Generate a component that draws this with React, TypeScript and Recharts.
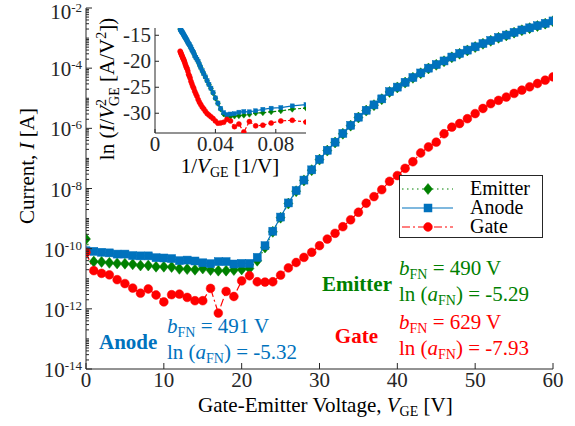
import { LineChart, Line, XAxis, YAxis, Legend } from "recharts";

// gate-emitter voltage sweep [V]
const voltage = [
  0, 1, 2, 3, 4, 5, 6, 7, 8, 9, 10, 11, 12, 13, 14, 15, 16, 17, 18, 19, 20,
  21, 22, 23, 24, 25, 26, 27, 28, 29, 30, 31, 32, 33, 34, 35, 36, 37, 38, 39, 40,
  41, 42, 43, 44, 45, 46, 47, 48, 49, 50, 51, 52, 53, 54, 55, 56, 57, 58, 59, 60,
];

// log10 of current [A]
const emitterLog = [
  -9.68, -10.43, -10.44, -10.47, -10.49, -10.5, -10.52, -10.56, -10.56, -10.6, -10.6,
  -10.61, -10.67, -10.68, -10.7, -10.66, -10.71, -10.73, -10.73, -10.71, -10.69,
  -10.66, -10.4, -9.96, -9.44, -8.97, -8.5, -8.09, -7.73, -7.39, -7.04,
  -6.74, -6.47, -6.18, -5.91, -5.64, -5.41, -5.23, -5.03, -4.79, -4.64,
  -4.48, -4.32, -4.17, -4.01, -3.89, -3.77, -3.64, -3.52, -3.41, -3.3,
  -3.19, -3.09, -2.99, -2.91, -2.82, -2.74, -2.67, -2.6, -2.52, -2.44,
];

const anodeLog = [
  -10.07, -10.09, -10.12, -10.14, -10.18, -10.18, -10.23, -10.24, -10.24, -10.3, -10.31,
  -10.33, -10.4, -10.38, -10.41, -10.47, -10.5, -10.43, -10.43, -10.51, -10.49,
  -10.49, -10.29, -9.9, -9.42, -8.95, -8.48, -8.07, -7.72, -7.38, -7.03,
  -6.73, -6.46, -6.17, -5.9, -5.63, -5.4, -5.22, -5.02, -4.78, -4.63,
  -4.47, -4.31, -4.16, -4.0, -3.88, -3.76, -3.63, -3.51, -3.4, -3.29,
  -3.18, -3.08, -2.98, -2.9, -2.81, -2.73, -2.66, -2.59, -2.51, -2.43,
];

const gateLog = [
  -10.12, -10.73, -10.82, -10.87, -11.03, -11.16, -11.31, -11.48, -11.34, -11.54, -11.77,
  -11.53, -11.51, -11.62, -11.73, -11.73, -11.32, -12.14, -11.42, -11.59, -11.07,
  -10.9, -11.1, -11.11, -11.1, -10.88, -10.64, -10.46, -10.29, -10.12, -9.9,
  -9.68, -9.49, -9.27, -9.04, -8.79, -8.49, -8.27, -8.04, -7.76, -7.57,
  -7.33, -7.11, -6.82, -6.62, -6.46, -6.18, -5.96, -5.84, -5.68, -5.51,
  -5.34, -5.18, -5.07, -4.96, -4.84, -4.73, -4.62, -4.51, -4.4, -4.29,
];

// Fowler-Nordheim fit results
const fitAnode = { b: 491, lna: "-5.32" };
const fitEmitter = { b: 490, lna: "-5.29" };
const fitGate = { b: 629, lna: "-7.93" };

const voltageTicks = [0, 10, 20, 30, 40, 50, 60];
const currentMajorTicks = [1e-14, 1e-12, 1e-10, 1e-8, 1e-6, 1e-4, 1e-2];
const insetXTicks = [0, 0.04, 0.08];
const insetYTicks = [-30, -25, -20, -15];

const FONT = '"Liberation Serif", "Times New Roman", serif';
const AXIS = "#262626";
const GREEN = "#008000";
const BLUE = "#0072BD";
const RED = "#FF0000";

const rows = voltage.map((v, i) => ({
  v,
  emitter: 10 ** emitterLog[i],
  anode: 10 ** anodeLog[i],
  gate: 10 ** gateLog[i],
}));

// FN plot: ln(I/V^2) against 1/V, for V >= 10
const insetRows = rows
  .filter((r) => r.v >= 10)
  .map((r) => ({
    inv: 1 / r.v,
    emitter: Math.log(r.emitter / (r.v * r.v)),
    anode: Math.log(r.anode / (r.v * r.v)),
    gate: Math.log(r.gate / (r.v * r.v)),
  }));

const currentTicks: number[] = [];
for (let e = -14; e <= -3; e++) {
  for (let m = 1; m <= 9; m++) currentTicks.push(m * 10 ** e);
}
currentTicks.push(1e-2);

const isMajor = (v: number) => currentMajorTicks.some((t) => Math.abs(v / t - 1) < 1e-6);

// ---- tick renderers (ticks point inward, MATLAB style) ----
const LeftLogTick = (p: any) => {
  const major = isMajor(p.payload.value);
  const exp = Math.round(Math.log10(p.payload.value));
  const base = Math.max(p.y + 8, 19);
  return (
    <g>
      <line x1={p.x} y1={p.y} x2={p.x + (major ? 6 : 3)} y2={p.y} stroke={AXIS} />
      {major && (
        <text x={p.x - 4} y={base} textAnchor="end" fontFamily={FONT} fontSize={21} fill={AXIS}>
          10<tspan dy={-7} fontSize={13}>{exp}</tspan>
        </text>
      )}
    </g>
  );
};

const RightLogTick = (p: any) => {
  const major = isMajor(p.payload.value);
  return <line x1={p.x} y1={p.y} x2={p.x - (major ? 6 : 3)} y2={p.y} stroke={AXIS} />;
};

const bottomTick = (len: number, fmt: (v: number) => string) => (p: any) => (
  <g>
    <line x1={p.x} y1={p.y} x2={p.x} y2={p.y - len} stroke={AXIS} />
    <text x={p.x} y={p.y + 18} textAnchor="middle" fontFamily={FONT} fontSize={21} fill={AXIS}>
      {fmt(p.payload.value)}
    </text>
  </g>
);

const topTick = (len: number) => (p: any) => (
  <line x1={p.x} y1={p.y} x2={p.x} y2={p.y + len} stroke={AXIS} />
);

const leftTick = (len: number) => (p: any) => (
  <g>
    <line x1={p.x} y1={p.y} x2={p.x + len} y2={p.y} stroke={AXIS} />
    <text x={p.x - 4} y={p.y + 7} textAnchor="end" fontFamily={FONT} fontSize={21} fill={AXIS}>
      {p.payload.value}
    </text>
  </g>
);

const rightTick = (len: number) => (p: any) => (
  <line x1={p.x} y1={p.y} x2={p.x - len} y2={p.y} stroke={AXIS} />
);

// ---- markers ----
const diamondDot = (hw: number, hh: number) => (p: any) => (
  <path
    key={`dm-${p.index}`}
    d={`M${p.cx},${p.cy - hh}L${p.cx + hw},${p.cy}L${p.cx},${p.cy + hh}L${p.cx - hw},${p.cy}Z`}
    fill={GREEN}
    stroke={GREEN}
    strokeWidth={0.5}
  />
);

const squareDot = (h: number) => (p: any) => (
  <rect key={`sq-${p.index}`} x={p.cx - h} y={p.cy - h} width={2 * h} height={2 * h} fill={BLUE} stroke={BLUE} strokeWidth={0.5} />
);

const circleDot = (r: number) => (p: any) => (
  <circle key={`ci-${p.index}`} cx={p.cx} cy={p.cy} r={r} fill={RED} stroke={RED} strokeWidth={0.5} />
);

const series = [
  { key: "emitter", name: "Emitter", color: GREEN, dash: "1.5 3.5", dot: diamondDot(4.5, 5.5), small: diamondDot(2.5, 3) },
  { key: "anode", name: "Anode", color: BLUE, dash: undefined, dot: squareDot(4), small: squareDot(2) },
  { key: "gate", name: "Gate", color: RED, dash: "8 3 2 3", dot: circleDot(4.4), small: circleDot(2.5) },
];

const LegendBox = () => (
  <svg width={144} height={63} style={{ display: "block" }}>
    <rect x={0.5} y={0.5} width={143} height={62} fill="#fff" stroke={AXIS} />
    {series.map((s, i) => {
      const cy = 14 + i * 19;
      return (
        <g key={s.key}>
          <line x1={3} y1={cy} x2={54} y2={cy} stroke={s.color} strokeWidth={1.2} strokeDasharray={s.dash} />
          {s.dot({ cx: 29, cy, index: i })}
          <text x={71} y={cy + 6} fontFamily={FONT} fontSize={20} fill="#000">
            {s.name}
          </text>
        </g>
      );
    })}
  </svg>
);

const FitText = ({ x, y, color, fit }: any) => (
  <g fill={color} fontFamily={FONT} fontSize={21}>
    <text x={x} y={y}>
      <tspan fontStyle="italic">b</tspan>
      <tspan fontSize={14} dy={4}>FN</tspan>
      <tspan dy={-4}>{` = ${fit.b} V`}</tspan>
    </text>
    <text x={x} y={y + 26}>
      {"ln ("}
      <tspan fontStyle="italic">a</tspan>
      <tspan fontSize={14} dy={4}>FN</tspan>
      <tspan dy={-4}>{`) = ${fit.lna}`}</tspan>
    </text>
  </g>
);

export default function App() {
  return (
    <div style={{ position: "relative", width: 575, height: 426, background: "#fff" }}>
      <style>{"body{margin:0}"}</style>
      <LineChart width={575} height={426} data={rows} margin={{ top: 8, right: 22, bottom: 0, left: 0 }}>
        <XAxis
          type="number"
          dataKey="v"
          domain={[0, 60]}
          ticks={voltageTicks}
          interval={0}
          height={57}
          tickSize={0}
          tickMargin={0}
          tickLine={false}
          stroke={AXIS}
          tick={bottomTick(6, (v) => String(v))}
          allowDataOverflow
        />
        <XAxis
          xAxisId="top"
          orientation="top"
          type="number"
          domain={[0, 60]}
          ticks={voltageTicks}
          interval={0}
          height={0}
          tickSize={0}
          tickMargin={0}
          tickLine={false}
          stroke={AXIS}
          tick={topTick(6)}
          allowDataOverflow
        />
        <YAxis
          type="number"
          scale="log"
          domain={[1e-14, 1e-2]}
          ticks={currentTicks}
          interval={0}
          width={86}
          tickSize={0}
          tickMargin={0}
          tickLine={false}
          stroke={AXIS}
          tick={<LeftLogTick />}
          allowDataOverflow
        />
        <YAxis
          yAxisId="right"
          orientation="right"
          type="number"
          scale="log"
          domain={[1e-14, 1e-2]}
          ticks={currentTicks}
          interval={0}
          width={0}
          tickSize={0}
          tickMargin={0}
          tickLine={false}
          stroke={AXIS}
          tick={<RightLogTick />}
          allowDataOverflow
        />
        {series.map((s) => (
          <Line
            key={s.key}
            type="linear"
            dataKey={s.key}
            name={s.name}
            stroke={s.color}
            strokeWidth={1.2}
            strokeDasharray={s.dash}
            dot={s.dot}
            activeDot={false}
            isAnimationActive={false}
          />
        ))}
        <Legend
          layout="vertical"
          align="center"
          verticalAlign="middle"
          content={<LegendBox />}
          wrapperStyle={{ left: 399, top: 175, width: 144, height: 63 }}
        />
      </LineChart>

      {/* inset: Fowler-Nordheim plot */}
      <div style={{ position: "absolute", left: 0, top: 0 }}>
        <LineChart width={320} height={190} data={insetRows} margin={{ top: 28, right: 14, bottom: 0, left: 0 }}>
          <XAxis
            type="number"
            dataKey="inv"
            domain={[0, 0.1]}
            ticks={insetXTicks}
            interval={0}
            height={57}
            tickSize={0}
            tickMargin={0}
            tickLine={false}
            stroke={AXIS}
            tick={bottomTick(4, (v) => (v === 0 ? "0" : v.toFixed(2)))}
            allowDataOverflow
          />
          <XAxis
            xAxisId="top"
            orientation="top"
            type="number"
            domain={[0, 0.1]}
            ticks={insetXTicks}
            interval={0}
            height={0}
            tickSize={0}
            tickMargin={0}
            tickLine={false}
            stroke={AXIS}
            tick={topTick(4)}
            allowDataOverflow
          />
          <YAxis
            type="number"
            domain={[-33.8, -13.6]}
            ticks={insetYTicks}
            interval={0}
            width={155}
            tickSize={0}
            tickMargin={0}
            tickLine={false}
            stroke={AXIS}
            tick={leftTick(4)}
            allowDataOverflow
          />
          <YAxis
            yAxisId="right"
            orientation="right"
            type="number"
            domain={[-33.8, -13.6]}
            ticks={insetYTicks}
            interval={0}
            width={0}
            tickSize={0}
            tickMargin={0}
            tickLine={false}
            stroke={AXIS}
            tick={rightTick(4)}
            allowDataOverflow
          />
          {series.map((s) => (
            <Line
              key={s.key}
              type="linear"
              dataKey={s.key}
              stroke={s.color}
              strokeWidth={1.2}
              strokeDasharray={s.dash ? "3 2" : undefined}
              dot={s.small}
              activeDot={false}
              isAnimationActive={false}
            />
          ))}
        </LineChart>
      </div>

      {/* axis titles and annotations */}
      <svg width={575} height={426} style={{ position: "absolute", left: 0, top: 0, pointerEvents: "none" }}>
        <g fontFamily={FONT} fontSize={21} fill="#000">
          <text x={198} y={412}>
            {"Gate-Emitter Voltage, "}
            <tspan fontStyle="italic">V</tspan>
            <tspan fontSize={14} dy={4}>GE</tspan>
            <tspan dy={-4}>{" [V]"}</tspan>
          </text>
          <text transform="translate(34,166) rotate(-90)" textAnchor="middle">
            {"Current, "}
            <tspan fontStyle="italic">I</tspan>
            {" [A]"}
          </text>
          <text x={230} y={173} textAnchor="middle">
            {"1/"}
            <tspan fontStyle="italic">V</tspan>
            <tspan fontSize={14} dy={4}>GE</tspan>
            <tspan dy={-4}>{" [1/V]"}</tspan>
          </text>
          <text transform="translate(114,89) rotate(-90)" textAnchor="middle">
            {"ln ("}
            <tspan fontStyle="italic">I</tspan>
            {"/"}
            <tspan fontStyle="italic">V</tspan>
            <tspan fontSize={14} dy={-8}>2</tspan>
            <tspan fontSize={14} dx={-7} dy={13}>GE</tspan>
            <tspan dy={-5}>{" [A/V"}</tspan>
            <tspan fontSize={14} dy={-8}>2</tspan>
            <tspan dy={8}>{"])"}</tspan>
          </text>
        </g>
        <g fontFamily={FONT} fontSize={21} fontWeight="bold">
          <text x={99} y={349} fill={BLUE}>Anode</text>
          <text x={322} y={291} fill={GREEN}>Emitter</text>
          <text x={378} y={343} fill={RED} textAnchor="end">Gate</text>
        </g>
        <FitText x={167} y={333} color={BLUE} fit={fitAnode} />
        <FitText x={399} y={275} color={GREEN} fit={fitEmitter} />
        <FitText x={399} y={329} color={RED} fit={fitGate} />
      </svg>
    </div>
  );
}
